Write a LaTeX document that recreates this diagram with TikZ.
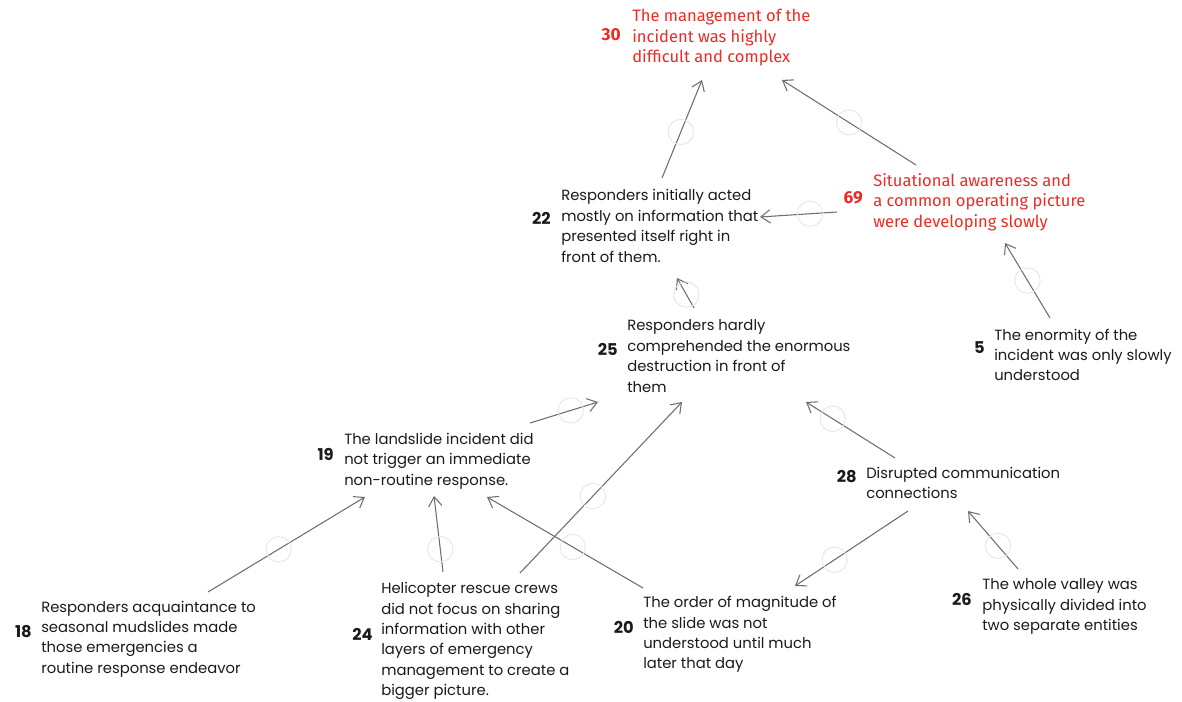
\documentclass[tikz,border=0pt]{standalone}
\usepackage{fontspec}
\setmainfont{Poppins}
\newfontfamily\redfont{Fira Sans}
\usetikzlibrary{arrows.meta}
\definecolor{hlred}{HTML}{EE2A24}
\definecolor{txt}{HTML}{1A1A1A}
\definecolor{conn}{HTML}{6E6E6E}
\definecolor{ring}{HTML}{E6E6E6}
\tikzset{
  x=0.75pt, y=-0.75pt,
  txtbox/.style={anchor=west, inner sep=0pt, align=left, text=txt,
    font=\fontsize{11.1pt}{15.3pt}\selectfont},
  redbox/.style={anchor=west, inner sep=0pt, align=left, text=hlred,
    font=\redfont\fontsize{12.4pt}{15.4pt}\selectfont},
  numbox/.style={anchor=east, inner sep=0pt, text=txt,
    font=\bfseries\fontsize{12.2pt}{14pt}\selectfont},
  rednum/.style={anchor=east, inner sep=0pt, text=hlred,
    font=\redfont\bfseries\fontsize{13pt}{14pt}\selectfont},
  link/.style={draw=conn, line width=0.8pt,
    -{Straight Barb[length=7pt,width=10pt,line width=0.8pt]}},
  ringmark/.style={circle, draw=ring, line width=0.7pt, minimum size=19pt, inner sep=0pt, fill=none},
}
\begin{document}
\begin{tikzpicture}
\useasboundingbox (0,0) rectangle (1182,702);
% text blocks
\node[redbox] (t30) at (632,38) {The management of the\\incident was highly\\difficult and complex};
\node[rednum] (n30) at (621,35) {30};
\node[txtbox] (t22) at (561,226) {Responders initially acted\\mostly on information that\\presented itself right in\\front of them.};
\node[numbox] (n22) at (551,218) {22};
\node[redbox] (t69) at (873,202) {Situational awareness and\\a common operating picture\\were developing slowly};
\node[rednum] (n69) at (863,198) {69};
\node[txtbox] (t25) at (627,356) {Responders hardly\\comprehended the enormous\\destruction in front of\\them};
\node[numbox] (n25) at (618,349) {25};
\node[txtbox] (t5) at (994,355) {The enormity of the\\incident was only slowly\\understood};
\node[numbox] (n5) at (985,348) {5};
\node[txtbox] (t19) at (344,461) {The landslide incident did\\not trigger an immediate\\non-routine response.};
\node[numbox] (n19) at (334,454) {19};
\node[txtbox] (t28) at (866,483) {Disrupted communication\\connections};
\node[numbox] (n28) at (857,477) {28};
\node[txtbox] (t18) at (41,639) {Responders acquaintance to\\seasonal mudslides made\\those emergencies a\\routine response endeavor};
\node[numbox] (n18) at (32,632) {18};
\node[txtbox] (t24) at (381,641) {Helicopter rescue crews\\did not focus on sharing\\information with other\\layers of emergency\\management to create a\\bigger picture.};
\node[numbox] (n24) at (373,634) {24};
\node[txtbox] (t20) at (643,634.5) {The order of magnitude of\\the slide was not\\understood until much\\later that day};
\node[numbox] (n20) at (634,627) {20};
\node[txtbox] (t26) at (982,606.5) {The whole valley was\\physically divided into\\two separate entities};
\node[numbox] (n26) at (972,599) {26};
% connector end points
\coordinate (a22o) at (662,178);  \coordinate (a30i1) at (702,80);
\coordinate (a69o1) at (916,165); \coordinate (a30i2) at (782,80);
\coordinate (a69o2) at (837,212); \coordinate (a22i1) at (760,217);
\coordinate (a25o1) at (694,308); \coordinate (a22i2) at (677,278);
\coordinate (a5o) at (1050,318);  \coordinate (a69i) at (1005,243);
\coordinate (a19o) at (530,423);  \coordinate (a25i1) at (598,402);
\coordinate (a28o1) at (895,458); \coordinate (a25i2) at (806,402);
\coordinate (a24o1) at (520,573); \coordinate (a25i3) at (682,402);
\coordinate (a24o2) at (443,572); \coordinate (a19i1) at (434,496);
\coordinate (a20o) at (643,588);  \coordinate (a19i2) at (487,497);
\coordinate (a18o) at (208,592);  \coordinate (a19i3) at (365,497);
\coordinate (a28o2) at (908,511); \coordinate (a20i) at (795,586);
\coordinate (a26o) at (1018,569); \coordinate (a28i) at (968,511);
% connectors
\draw[link] (a22o) -- node[ringmark, pos=0.47]{} (a30i1);
\draw[link] (a69o1) -- node[ringmark, pos=0.5]{} (a30i2);
\draw[link] (a69o2) -- node[ringmark, pos=0.35]{} (a22i1);
\draw[link] (a25o1) -- node[ringmark, pos=0.45]{} (a22i2);
\draw[link] (a5o) -- node[ringmark, pos=0.5]{} (a69i);
\draw[link] (a19o) -- node[ringmark, pos=0.6]{} (a25i1);
\draw[link] (a28o1) -- node[ringmark, pos=0.7]{} (a25i2);
\draw[link] (a24o1) -- node[ringmark, pos=0.45]{} (a25i3);
\draw[link] (a24o2) -- node[ringmark, pos=0.3]{} (a19i1);
\draw[link] (a20o) -- node[ringmark, pos=0.45]{} (a19i2);
\draw[link] (a18o) -- node[ringmark, pos=0.45]{} (a19i3);
\draw[link] (a28o2) -- node[ringmark, pos=0.65]{} (a20i);
\draw[link] (a26o) -- node[ringmark, pos=0.4]{} (a28i);
\end{tikzpicture}
\end{document}
